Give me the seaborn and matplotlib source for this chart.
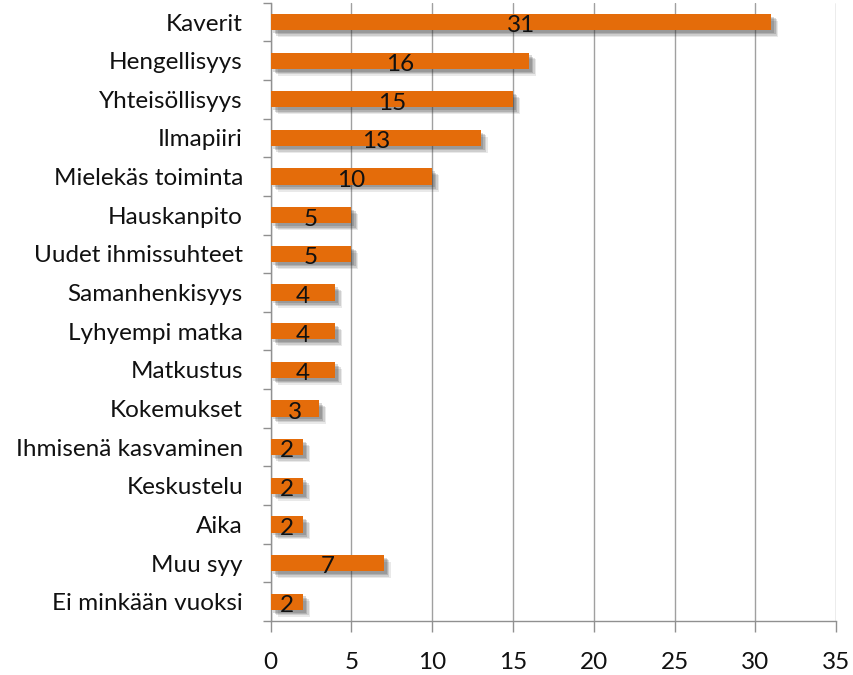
import matplotlib
matplotlib.use("Agg")
import matplotlib.pyplot as plt
import matplotlib.patheffects as pe
import seaborn as sns
import pandas as pd

# data
categories = ["Kaverit", "Hengellisyys", "Yhteisöllisyys", "Ilmapiiri",
              "Mielekäs toiminta", "Hauskanpito", "Uudet ihmissuhteet",
              "Samanhenkisyys", "Lyhyempi matka", "Matkustus", "Kokemukset",
              "Ihmisenä kasvaminen", "Keskustelu", "Aika", "Muu syy",
              "Ei minkään vuoksi"]
values = [31, 16, 15, 13, 10, 5, 5, 4, 4, 4, 3, 2, 2, 2, 7, 2]

df = pd.DataFrame({"syy": categories, "lkm": values})

sns.set_theme(style="white")
plt.rcParams["font.family"] = ["Lato", "DejaVu Sans"]
FS = 17.5

fig = plt.figure(figsize=(8.54, 6.75), dpi=100)
ax = fig.add_axes([0.317, 0.080, 0.662, 0.916])

sns.barplot(data=df, x="lkm", y="syy", color="#E46C0A", saturation=1,
            width=0.42, linewidth=0, ax=ax, zorder=3)

# soft drop shadow: a few stacked faint shadows
shadow = []
for dx, dy, a in [(5, -5, 0.10), (4, -4, 0.14), (3, -3, 0.18), (2, -2, 0.18)]:
    shadow.append(pe.SimplePatchShadow(offset=(dx, dy), alpha=a,
                                       shadow_rgbFace="#303030"))
for bar in ax.patches:
    bar.set_edgecolor("none")
    bar.set_path_effects(shadow + [pe.Normal()])

for bar, v in zip(ax.patches, values):
    ax.text(bar.get_width() / 2, bar.get_y() + bar.get_height() / 2 + 0.1,
            str(v), ha="center", va="center", fontsize=FS, color="#111111",
            zorder=5)

ax.set_xlim(0, 35)
ax.set_ylim(len(categories) - 0.5, -0.5)
ax.set_xticks(range(0, 36, 5))
ax.set_yticks([i - 0.5 for i in range(len(categories) + 1)], minor=True)
ax.set_yticks(range(len(categories)))
ax.tick_params(axis="y", which="major", length=0, pad=20, labelsize=FS,
               labelcolor="#111111")
ax.tick_params(axis="y", which="minor", length=6, width=1, color="#909090",
               direction="out", left=True)
ax.tick_params(axis="x", which="major", length=8, width=1, color="#909090",
               direction="out", bottom=True, labelsize=FS, pad=14,
               labelcolor="#111111")
ax.xaxis.grid(True, color="#A0A0A0", linewidth=1, zorder=0)
ax.set_axisbelow(True)
for s in ["top", "right"]:
    ax.spines[s].set_visible(False)
for s in ["left", "bottom"]:
    ax.spines[s].set_color("#909090")
    ax.spines[s].set_linewidth(1)
ax.set_xlabel("")
ax.set_ylabel("")

fig.savefig("out.png", dpi=100)
